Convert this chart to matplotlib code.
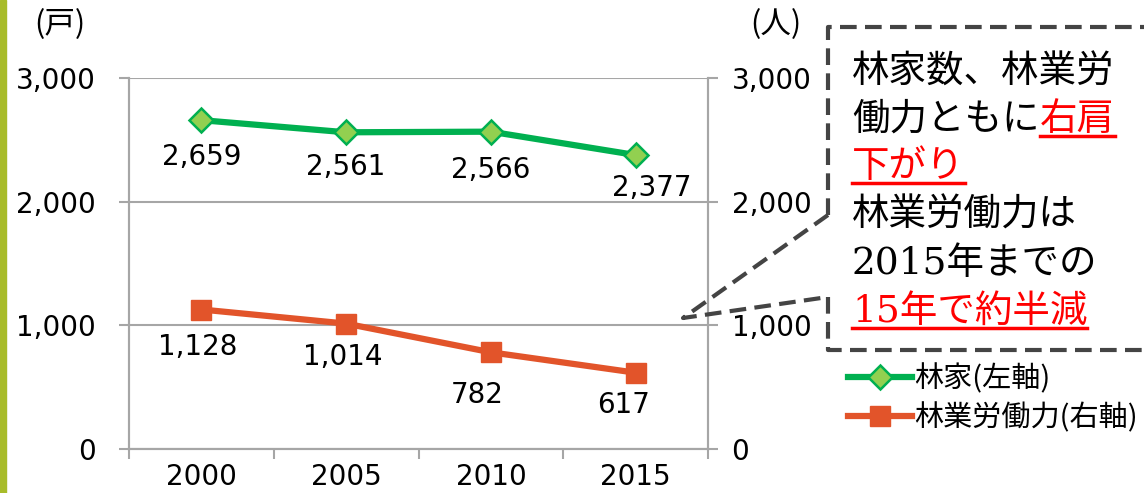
import matplotlib
matplotlib.use('Agg')
import matplotlib.pyplot as plt
from matplotlib.patches import Rectangle

plt.rcParams['font.family'] = ['DejaVu Sans', 'Noto Sans CJK JP']

# data
years = ['2000', '2005', '2010', '2015']
households = [2659, 2561, 2566, 2377]      # 林家 (left axis, 戸)
workers = [1128, 1014, 782, 617]           # 林業労働力 (right axis, 人)
yticks = [0, 1000, 2000, 3000]

# label offsets in pixels (dx, dy below marker)
hh_off = [(0, 37), (0, 35), (0, 38), (16, 33)]
wk_off = [(-4, 37), (-3, 33), (-14, 43), (-12, 32)]

green = '#00b050'
green_face = '#92d050'
orange = '#e2542a'
grid_c = '#a6a6a6'
cjk = ['Noto Sans CJK JP', 'DejaVu Sans']

fig = plt.figure(figsize=(11.44, 4.93), dpi=100)
ax = fig.add_axes([129 / 1144, 1 - 449 / 493, 579 / 1144, 371 / 493])
ax2 = ax.twinx()

x = list(range(len(years)))
l1, = ax.plot(x, households, color=green, lw=4.5, marker='D', ms=12,
              mfc=green_face, mec=green, mew=1.8, zorder=3)
l2, = ax2.plot(x, workers, color=orange, lw=4.5, marker='s', ms=14,
               mfc=orange, mec=orange, zorder=3)

for i, v in enumerate(households):
    dx, dy = hh_off[i]
    ax.annotate(f'{v:,}', (i, v), xytext=(dx, -dy), textcoords='offset pixels',
                ha='center', va='center', fontsize=20)
for i, v in enumerate(workers):
    dx, dy = wk_off[i]
    ax2.annotate(f'{v:,}', (i, v), xytext=(dx, -dy), textcoords='offset pixels',
                 ha='center', va='center', fontsize=20)

for a in (ax, ax2):
    a.set_xlim(-0.5, len(years) - 0.5)
    a.set_ylim(0, 3000)
    a.set_yticks(yticks)
    a.set_yticklabels([f'{t:,}' for t in yticks], fontsize=20)
    a.tick_params(axis='y', length=7, width=1.5, color=grid_c)
    for s in a.spines.values():
        s.set_color(grid_c)
        s.set_linewidth(1.5)
    a.spines['top'].set_visible(False)

ax.tick_params(axis='y', pad=17)
ax2.tick_params(axis='y', pad=10)
ax.set_xticks([i - 0.5 for i in range(len(years) + 1)])
ax.set_xticklabels([])
ax.set_xticks(x, minor=True)
ax.set_xticklabels(years, minor=True, fontsize=20)
ax.tick_params(axis='x', which='major', length=7, width=1.5, color=grid_c)
ax.tick_params(axis='x', which='minor', length=0, pad=10)
ax.grid(axis='y', color=grid_c, lw=1.5)
ax.set_axisbelow(True)
ax2.tick_params(axis='x', which='both', bottom=False)

# unit labels
fig.text(60 / 1144, 1 - 25 / 493, '(戸)', ha='center', va='center', fontsize=22, family=cjk)
fig.text(776 / 1144, 1 - 25 / 493, '(人)', ha='center', va='center', fontsize=22, family=cjk)

# green side bar
fig.patches.append(Rectangle((0, 0), 6 / 1144, 1, transform=fig.transFigure,
                             color='#a8bc2a', zorder=0))

# overlay for the callout
ov = fig.add_axes([0, 0, 1, 1], zorder=5)
ov.set_xlim(0, 1144)
ov.set_ylim(493, 0)
ov.axis('off')
ov.patch.set_visible(False)

dash = dict(color='#444444', lw=3, ls=(0, (4, 2)), solid_capstyle='butt')
ov.plot([828, 828, 1150], [215, 27, 27], **dash)
ov.plot([828, 828, 1150], [297, 350, 350], **dash)
ov.plot([828, 683, 828], [215, 318, 297], **dash)

box_font = ['DejaVu Serif', 'Noto Sans CJK JP']
fs = 27
rend = fig.canvas.get_renderer()
inv = ov.transData.inverted()


def piece(x0, y0, s, color):
    t = ov.text(x0, y0, s, ha='left', va='center', fontsize=fs, color=color, family=box_font)
    bb = t.get_window_extent(rend)
    (xa, yb), (xb, yt) = inv.transform([(bb.x0, bb.y0), (bb.x1, bb.y1)])
    if color == 'red':
        ov.plot([xa, xb], [yb - 2, yb - 2], color='red', lw=2.5)
    return xb


x0 = 852
piece(x0, 73, '林家数、林業労', 'black')
xe = piece(x0, 120, '働力ともに', 'black')
piece(xe, 120, '右肩', 'red')
piece(x0, 167, '下がり', 'red')
piece(x0, 216, '林業労働力は', 'black')
piece(x0, 264, '2015年までの', 'black')
piece(x0, 312, '15年で約半減', 'red')

fig.legend([l1, l2], ['林家(左軸)', '林業労働力(右軸)'], loc='upper left',
           bbox_to_anchor=(830 / 1144, 1 - 346 / 493), frameon=False,
           prop={'family': cjk, 'size': 21}, handlelength=2.2,
           handletextpad=0.1, labelspacing=0.3, borderaxespad=0.2)

fig.savefig('out.png', dpi=100)
